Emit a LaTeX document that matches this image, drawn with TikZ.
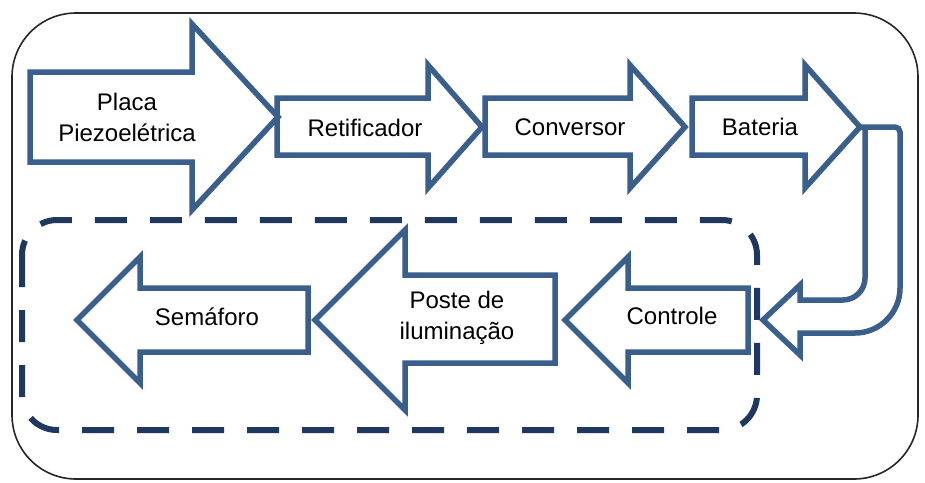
\documentclass[tikz,border=0pt]{standalone}
\usepackage{fontspec}
\setmainfont{Liberation Sans}
\definecolor{arrowblue}{RGB}{58,95,140}
\definecolor{navy}{RGB}{31,56,96}
\begin{document}
\begin{tikzpicture}[x=0.5pt,y=-0.5pt,
  blockarrow/.style={draw=arrowblue,line width=2.75pt,line join=miter},
  dashbox/.style={draw=navy,line width=3pt,dash pattern=on 16pt off 11.5pt,rounded corners=17.5pt},
  frame/.style={draw=black!85,line width=0.8pt,rounded corners=32pt},
  lbl/.style={font=\fontsize{12pt}{15.5pt}\selectfont,align=center,inner sep=0pt}]
\useasboundingbox (0,0) rectangle (925,482);
\fill[white] (0,0) rectangle (925,482);
% outer frame
\draw[frame] (12,13) rectangle (918,479);
% dashed group
\draw[dashbox] (22,220) rectangle (757,430);
% top row arrows
\draw[blockarrow] (30,72) -- (192,72) -- (192,24) -- (278,117) -- (192,210) -- (192,162) -- (30,162) -- cycle;
\draw[blockarrow] (277,98) -- (428,98) -- (428,65) -- (482,127) -- (428,188) -- (428,155) -- (277,155) -- cycle;
\draw[blockarrow] (485,98) -- (630,98) -- (630,65) -- (685,127) -- (630,188) -- (630,155) -- (485,155) -- cycle;
\draw[blockarrow] (692,98) -- (805,98) -- (805,65) -- (860,127) -- (805,188) -- (805,155) -- (692,155) -- cycle;
% bent arrow
\draw[blockarrow] (860,127) -- (895,127) .. controls (897.8,127) and (900,129.2) .. (900,132)
  -- (900,288) .. controls (900,312.8) and (879.8,333) .. (855,333)
  -- (800,333) -- (800,355) -- (763,320) -- (800,285) -- (800,300)
  -- (843,300) .. controls (855.1,300) and (865,290.1) .. (865,278) -- (865,127);
% bottom row arrows
\draw[blockarrow] (748,288) -- (628,288) -- (628,257) -- (565,320) -- (628,383) -- (628,352) -- (748,352) -- cycle;
\draw[blockarrow] (555,275) -- (405,275) -- (405,230) -- (315,320) -- (405,410) -- (405,363) -- (555,363) -- cycle;
\draw[blockarrow] (308,288) -- (140,288) -- (140,257) -- (77,320) -- (140,383) -- (140,352) -- (308,352) -- cycle;
% labels
\node[lbl] (placa) at (127,117) {Placa\\Piezoelétrica};
\node[lbl] (retif) at (365,128) {Retificador};
\node[lbl] (conv) at (570,127) {Conversor};
\node[lbl] (bat) at (760,127) {Bateria};
\node[lbl] (ctrl) at (672,316) {Controle};
\node[lbl] (poste) at (457,318) {Poste de\\iluminação};
\node[lbl] (sem) at (207,317) {Semáforo};
\end{tikzpicture}
\end{document}
